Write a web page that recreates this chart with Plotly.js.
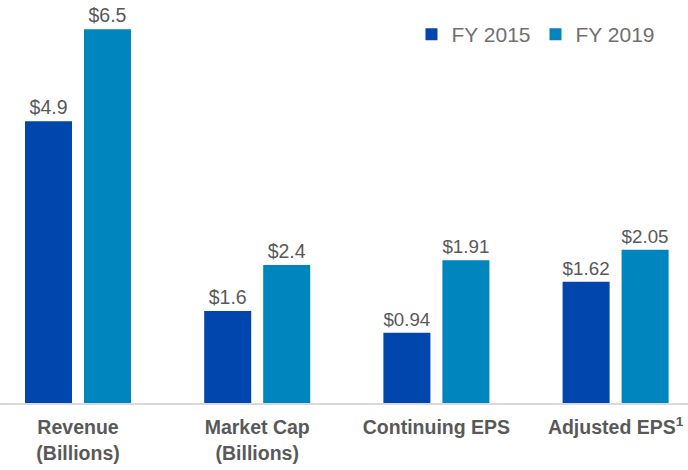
<!DOCTYPE html>
<html>
<head>
<meta charset="utf-8">
<script src="https://cdn.plot.ly/plotly-3.0.1.min.js"></script>
<style>html,body{margin:0;padding:0;background:#fff;}#chart{width:688px;height:470px;}</style>
</head>
<body>
<div id="chart"></div>
<script>
// Data
var categories = ["Revenue<br>(Billions)", "Market Cap<br>(Billions)", "Continuing EPS", "Adjusted EPS<sup>1</sup>"];
var billionCategories = ["Revenue<br>(Billions)", "Market Cap<br>(Billions)"];
var epsCategories = ["Continuing EPS", "Adjusted EPS<sup>1</sup>"];
var fy2015Billions = [4.9, 1.6];
var fy2019Billions = [6.5, 2.4];
var fy2015Eps = [0.94, 1.62];
var fy2019Eps = [1.91, 2.05];
var fy2015Labels = ["$4.9", "$1.6"];
var fy2019Labels = ["$6.5", "$2.4"];
var fy2015EpsLabels = ["$0.94", "$1.62"];
var fy2019EpsLabels = ["$1.91", "$2.05"];
var seriesNames = ["FY 2015", "FY 2019"];

var c2015 = "#0046AD", c2019 = "#0085BF";
var FONT = "Liberation Sans, Arial, sans-serif";
var labelFont = {family: FONT, size: 19.5, color: "#595959"};

function bar(x, y, txt, name, color, yaxis, show) {
  return {
    type: "bar", x: x, y: y, name: name, text: txt,
    textposition: "outside", cliponaxis: false,
    textfont: labelFont, hoverinfo: "none",
    marker: {color: color}, yaxis: yaxis,
    legendgroup: name, showlegend: show
  };
}

var traces = [
  bar(billionCategories, fy2015Billions, fy2015Labels, seriesNames[0], c2015, "y", true),
  bar(billionCategories, fy2019Billions, fy2019Labels, seriesNames[1], c2019, "y", true),
  bar(epsCategories, fy2015Eps, fy2015EpsLabels, seriesNames[0], c2015, "y2", false),
  bar(epsCategories, fy2019Eps, fy2019EpsLabels, seriesNames[1], c2019, "y2", false)
];

var layout = {
  width: 688, height: 470,
  margin: {l: 0, r: 0, t: 0, b: 67, pad: 0, autoexpand: false},
  paper_bgcolor: "#fff", plot_bgcolor: "#fff",
  barmode: "group", bargap: 0.3415, bargroupgap: 0.203,
  font: {family: FONT, color: "#595959"},
  xaxis: {
    type: "category", categoryorder: "array", categoryarray: categories,
    range: [-0.4353, 3.404], showgrid: false, zeroline: false,
    showline: true, linecolor: "#d9d9d9", linewidth: 2,
    ticks: "", ticklabelstandoff: 6, automargin: false,
    tickfont: {family: FONT, size: 19.5, color: "#595959", weight: "bold"}
  },
  yaxis: {range: [0, 7.009], visible: false, showgrid: false, zeroline: false},
  yaxis2: {range: [0, 5.388], visible: false, showgrid: false, zeroline: false, overlaying: "y"},
  legend: {
    orientation: "h", x: 0.96, xanchor: "right", y: 0.965, yanchor: "top",
    xref: "paper", yref: "paper",
    font: {family: FONT, size: 21, color: "#707070"},
    bgcolor: "rgba(0,0,0,0)", traceorder: "normal", itemclick: false
  },
  showlegend: true
};

Plotly.newPlot("chart", traces, layout, {displayModeBar: false, staticPlot: true});
</script>
</body>
</html>
